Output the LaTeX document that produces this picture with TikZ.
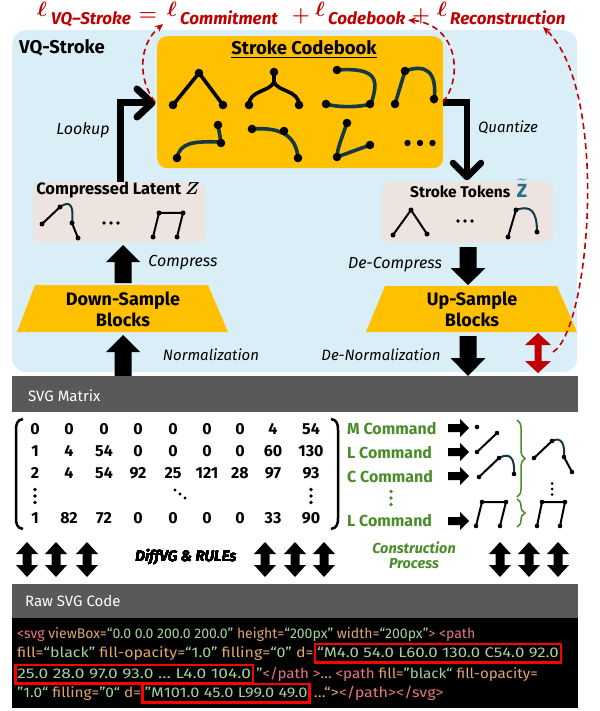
\documentclass[tikz,border=0pt]{standalone}
\usepackage{fontspec}
\usepackage{amsmath}
\usepackage{graphicx}
\setmainfont{Fira Sans}
\usetikzlibrary{arrows.meta,decorations.pathreplacing,calc}
\definecolor{vqblue}{HTML}{DAEEF8}
\definecolor{cbor}{HTML}{FFC000}
\definecolor{latbg}{HTML}{EEE4DF}
\definecolor{bargray}{HTML}{595959}
\definecolor{lossred}{HTML}{C00000}
\definecolor{stk}{HTML}{163845}
\definecolor{cmdgreen}{HTML}{4A8C2A}
\definecolor{zteal}{HTML}{1F6E8C}
\definecolor{ctag}{HTML}{E8767C}
\definecolor{cattr}{HTML}{E2A66C}
\definecolor{cstr}{HTML}{A3D39C}
\definecolor{boxred}{HTML}{FF0000}
\newcommand\fsz[1]{\fontsize{#1}{#1}\selectfont}
\newcommand\codetag[1]{\textcolor{ctag}{#1}}
\newcommand\codeattr[1]{\textcolor{cattr}{#1}}
\newcommand\codestr[1]{\textcolor{cstr}{#1}}
\newcommand\sx[2]{\scalebox{#1}[1]{#2}}
\newcommand\stdot[3][black]{\fill[#1] (#2) circle[radius=#3pt];}
% three dots: colour, x, y, spacing dx, spacing dy, radius
\newcommand\dotsat[6]{\fill[#1] (#2-#4,#3-#5) circle[radius=#6pt] (#2,#3) circle[radius=#6pt] (#2+#4,#3+#5) circle[radius=#6pt];}
% vertical block arrow: x, y tail, y tip, half shaft, half head, head length
\newcommand\vblk[6]{%
  \pgfmathsetmacro\hbase{#3+#6*sign(#2-#3)}%
  \fill (#1-#4,#2) -- (#1-#4,\hbase) -- (#1-#5,\hbase) -- (#1,#3) -- (#1+#5,\hbase) -- (#1+#4,\hbase) -- (#1+#4,#2) -- cycle;}
% vertical double block arrow: x, y top, y bottom, half shaft, half head, head length
\newcommand\dblk[6]{%
  \fill (#1,#2) -- (#1+#5,#2+#6) -- (#1+#4,#2+#6) -- (#1+#4,#3-#6) -- (#1+#5,#3-#6) -- (#1,#3) -- (#1-#5,#3-#6) -- (#1-#4,#3-#6) -- (#1-#4,#2+#6) -- (#1-#5,#2+#6) -- cycle;}
% right block arrow: y, x tail, x tip, half shaft, half head, head length
\newcommand\rblk[6]{%
  \fill (#2,#1-#4) -- (#3-#6,#1-#4) -- (#3-#6,#1-#5) -- (#3,#1) -- (#3-#6,#1+#5) -- (#3-#6,#1+#4) -- (#2,#1+#4) -- cycle;}
\begin{document}
\begin{tikzpicture}[x=1pt,y=-1pt,
  txt/.style={inner sep=0pt},
  panel/.style={inner sep=0pt, anchor=north west},
  mat/.style={inner sep=0pt, font=\fsz{16}\bfseries},
  cmd/.style={inner sep=0pt, anchor=west, font=\fsz{16}\bfseries, text=cmdgreen},
  code/.style={inner sep=0pt, anchor=base west, font=\fsz{14}, text height=10.5pt, text depth=3pt},
  redbox/.style={draw=boxred, line width=2.5pt, inner xsep=2pt, inner ysep=2.5pt},
  lossell/.style={inner sep=0pt, anchor=base west, text=lossred, font=\fsz{22}},
  losssub/.style={inner sep=0pt, anchor=base west, text=lossred, font=\fsz{17}\bfseries\itshape},
  lossop/.style={inner sep=0pt, anchor=base, text=lossred, font=\fsz{22}},
  cbl/.style={line width=3.6pt, line cap=round, line join=round},
  sml/.style={line width=2pt, line cap=round, line join=round},
  lossline/.style={draw=lossred, line width=1.6pt, dash pattern=on 6pt off 4pt, -{Stealth[length=8pt,width=7pt]}},
  brc/.style={draw=cmdgreen, line width=1.5pt, decorate, decoration={brace, amplitude=8pt}}]
\useasboundingbox (0,0) rectangle (599,711);

% ---------- panels ----------
\node[panel, fill=vqblue, rounded corners=14pt, minimum width=565pt, minimum height=342pt] (vq) at (12,30) {};
\node[panel, fill=cbor, rounded corners=10pt, minimum width=286pt, minimum height=132pt] (cb) at (157,36) {};
\node[panel, fill=latbg, rounded corners=7pt, minimum width=172pt, minimum height=60pt] (zbox) at (33,182) {};
\node[panel, fill=latbg, rounded corners=7pt, minimum width=171pt, minimum height=60pt] (tbox) at (382,182) {};

% ---------- loss formula ----------
\node[lossell] (l1) at (37,17) {$\boldsymbol{\ell}$};
\node[losssub] (s1) at (51,24.5) {VQ–Stroke};
\node[lossop] (eq) at (148,21) {$\boldsymbol{=}$};
\node[lossell] (l2) at (167,17) {$\boldsymbol{\ell}$};
\node[losssub] (s2) at (180,24.5) {Commitment};
\node[lossop] (p1) at (301,22) {$\boldsymbol{+}$};
\node[lossell] (l3) at (315,17) {$\boldsymbol{\ell}$};
\node[losssub] (s3) at (328,24.5) {Codebook};
\node[lossop] (p2) at (421,22) {$\boldsymbol{+}$};
\node[lossell] (l4) at (437,17) {$\boldsymbol{\ell}$};
\node[losssub] (s4) at (450,24.5) {Reconstruction};

% ---------- titles ----------
\node[txt, anchor=west, font=\fsz{18.5}\bfseries] (vqt) at (19,48) {VQ-Stroke};
\node[txt, font=\fsz{18.5}\bfseries] (cbt) at (304,49) {\underline{Stroke Codebook}};
\node[txt, font=\fsz{16.5}\bfseries] (zt) at (118,190) {Compressed Latent $\boldsymbol{Z}$};
\node[txt, anchor=base west, font=\fsz{15.5}\bfseries] (tt) at (410,197) {Stroke Tokens};
\node[txt, anchor=base west, text=zteal, font=\fsz{19}] (ttz) at ([xshift=6pt]tt.base east) {$\widetilde{\mathbf{Z}}$};

% ---------- codebook strokes ----------
\draw[cbl] (173,105) -- (199,73) -- (223,105);
\stdot{173,105}{4.3}\stdot{199,73}{4.3}\stdot{223,105}{4.3}
\draw[cbl] (249,105) .. controls (249,90) and (270,92) .. (274,82) -- (274,72);
\draw[cbl] (299,105) .. controls (299,90) and (278,92) .. (274,82);
\stdot{249,105}{4.3}\stdot{274,72}{4.3}\stdot{299,105}{4.3}
\draw[cbl, stk] (337,70) .. controls (380,67) and (378,82) .. (371,104);
\draw[cbl, stk] (326,104) .. controls (340,108) and (360,107) .. (371,104);
\stdot{337,70}{4.3}\stdot{326,104}{4.3}\stdot{370,104}{4.3}
\draw[cbl, stk] (395,104) -- (405,71) .. controls (425,64) and (438,70) .. (434,102);
\stdot{395,104}{4.3}\stdot{405,71}{4.3}\stdot{434,99}{4.3}
\draw[cbl, stk] (177,158) .. controls (180,143) and (192,141) .. (221,142) -- (218,125);
\stdot{177,158}{4.3}\stdot{221,143}{4.3}\stdot{218,125}{4.3}
\draw[cbl, stk] (252,129) .. controls (280,127) and (296,135) .. (298,158);
\stdot{252,129}{4.3}\stdot{284,131}{4.3}\stdot{298,158}{4.3}
\draw[cbl, stk] (347,123) .. controls (341,140) and (337,150) .. (337,157) -- (370,145);
\stdot{347,123}{4.3}\stdot{337,157}{4.3}\stdot{370,145}{4.3}
\dotsat{black}{420}{143}{12.5}{0}{3.2}

% ---------- latent strokes ----------
\draw[sml] (42,224) -- (60,207);
\draw[sml, stk] (60,207) .. controls (70,200) and (74,205) .. (72,223);
\draw[sml] (72,223) -- (78,238);
\stdot{42,224}{2.5}\stdot{60,207}{2.5}\stdot{72,223}{2.5}\stdot{78,238}{2.5}
\dotsat{black}{111}{223}{7}{0}{1.8}
\draw[sml] (153,237) -- (159,213) -- (183,213) -- (177,237);
\stdot{153,237}{2.5}\stdot{159,213}{2.5}\stdot{183,213}{2.5}\stdot{177,237}{2.5}

\draw[sml] (393,235) -- (411,210) -- (427,234);
\stdot{393,235}{2.5}\stdot{411,210}{2.5}\stdot{427,234}{2.5}
\dotsat{black}{465}{221}{7}{0}{1.8}
\draw[sml] (508,237) -- (516,210);
\draw[sml, stk] (516,210) .. controls (530,205) and (537,210) .. (537,232);
\stdot{508,237}{2.5}\stdot{516,210}{2.5}\stdot{537,232}{2.5}

% ---------- lookup / quantize ----------
\coordinate (lk0) at (120,182);
\coordinate (lk1) at (120,103);
\coordinate (lk2) at (150,103);
\draw[line width=7pt, line join=miter] (lk0) -- (lk1) -- (lk2);
\draw[line width=7pt, line cap=round, line join=round] (137,89) -- (152,103) -- (137,117);
\coordinate (qz0) at (443,102.5);
\coordinate (qz1) at (467,102.5);
\coordinate (qz2) at (467,174);
\draw[line width=6.5pt, line join=miter] (qz0) -- (qz1) -- (qz2);
\draw[line width=6.5pt, line cap=round, line join=round] (453,163) -- (467,177) -- (481,163);
\node[txt, font=\fsz{16}\itshape] (lookup) at (83,130) {Lookup};
\node[txt, font=\fsz{15}\itshape] (quant) at (508,127) {Quantize};

% ---------- encoder / decoder ----------
\fill[cbor] (35,285) -- (208,285) -- (228,332) -- (17,332) -- cycle;
\node[txt, align=center, font=\fontsize{18}{21}\selectfont\bfseries] (down) at (123,309) {Down-Sample\\Blocks};
\fill[cbor] (385,286) -- (557,286) -- (577,332) -- (366,332) -- cycle;
\node[txt, align=center, font=\fontsize{18}{21}\selectfont\bfseries] (up) at (472,309) {Up-Sample\\Blocks};

\vblk{123}{283}{245}{8.5}{17}{17}
\vblk{123}{377}{335}{8.5}{17}{17}
\vblk{468}{247}{285}{8.5}{17.5}{17}
\vblk{468}{336}{376}{8.5}{17.5}{18}
\node[txt, font=\fsz{16}\itshape] (compress) at (183,263) {Compress};
\node[txt, font=\fsz{15}\itshape] (norm) at (211,355) {Normalization};
\node[txt, font=\fsz{16}\itshape] (decomp) at (395,265) {De-Compress};
\node[txt, font=\fsz{15}\itshape] (denorm) at (381,355) {De-Normalization};
\begin{scope}[lossred]
\dblk{538}{333}{373}{3.5}{13}{12}
\end{scope}

% ---------- loss dashed curves ----------
\draw[lossline] (155,102) .. controls (138,80) and (138,45) .. (163,24);
\draw[lossline] (443,102) .. controls (462,80) and (460,25) .. (408,20);
\draw[lossline] (553,352) .. controls (590,330) and (610,90) .. (543,27);

% ---------- SVG matrix ----------
\node[panel, fill=bargray, minimum width=566pt, minimum height=36pt] (bar1) at (12,376) {};
\node[txt, anchor=west, font=\fsz{15}, text=white] (bar1t) at (28,396) {SVG Matrix};

\draw[line width=2.5pt] (23,419) .. controls (17,420) and (16,424) .. (16,430) -- (16,518) .. controls (16,524) and (17,528) .. (23,529);
\draw[line width=2.5pt] (331,419) .. controls (337,420) and (338,424) .. (338,430) -- (338,518) .. controls (338,524) and (337,528) .. (331,529);
\foreach \x/\v [count=\c] in {35/0,69/0,104/0,138/0,173/0,207/0,240/0,273/4,311/54}
  \node[mat] (ma\c) at (\x,429) {\v};
\foreach \x/\v [count=\c] in {35/1,69/4,104/54,138/0,173/0,207/0,240/0,273/60,311/130}
  \node[mat] (mb\c) at (\x,451) {\v};
\foreach \x/\v [count=\c] in {35/2,69/4,104/54,138/92,173/25,207/121,240/28,273/97,311/93}
  \node[mat] (mc\c) at (\x,473) {\v};
\dotsat{black}{35}{496}{0}{6.5}{1.8}
\dotsat{black}{180}{494}{5}{4}{1.6}
\dotsat{black}{311}{496}{0}{6.5}{1.8}
\foreach \x/\v [count=\c] in {35/1,69/82,104/72,138/0,173/0,207/0,240/0,273/33,311/90}
  \node[mat] (me\c) at (\x,518) {\v};

% ---------- commands ----------
\node[cmd] (cm1) at (347,429) {M Command};
\node[cmd] (cm2) at (347,453) {L Command};
\node[cmd] (cm3) at (347,477) {C Command};
\dotsat{cmdgreen}{391}{498}{0}{6.5}{1.8}
\node[cmd] (cm5) at (347,521) {L Command};
\rblk{428}{448}{469}{4}{9}{9}
\rblk{452}{448}{469}{4}{9}{9}
\rblk{476}{448}{469}{4}{9}{9}
\rblk{521}{448}{469}{4}{9}{9}

\stdot{477,427}{2.3}
\draw[sml] (477,452) -- (497,433);
\stdot{477,452}{2.3}\stdot{497,433}{2.3}
\draw[sml] (479,477) -- (499,458);
\draw[sml, stk] (499,458) .. controls (510,452) and (515,458) .. (514,474);
\stdot{479,477}{2.3}\stdot{499,458}{2.3}\stdot{514,474}{2.3}
\draw[sml] (476,526) -- (482,502) -- (506,502) -- (500,526);
\stdot{476,526}{2.3}\stdot{482,502}{2.3}\stdot{506,502}{2.3}\stdot{500,526}{2.3}

\draw[brc] (517,420) -- (517,497);
\draw[brc] (517,499) -- (517,527);

\draw[sml] (534,458) -- (552,441);
\draw[sml, stk] (552,441) .. controls (562,436) and (565,445) .. (564,457);
\draw[sml] (564,457) -- (572,472);
\stdot{534,458}{2.3}\stdot{552,441}{2.3}\stdot{564,457}{2.3}\stdot{572,472}{2.3}
\dotsat{black}{552}{489}{0}{5.5}{1.5}
\draw[sml] (537,526) -- (542,502) -- (565,502) -- (560,526);
\stdot{537,526}{2.3}\stdot{542,502}{2.3}\stdot{565,502}{2.3}\stdot{560,526}{2.3}

% ---------- double arrows ----------
\foreach \x in {27,56,87,265,295,324,500,529,558}
  \dblk{\x}{542}{577}{4.5}{11}{12}
\node[txt, font=\fsz{15}\bfseries\itshape] (diffvg) at (186,557) {Dif{}fVG \& RULEs};
\node[txt, align=center, text=cmdgreen, font=\fontsize{14.5}{14.5}\selectfont\bfseries\itshape] (constr) at (414,555) {Construction\\Process};

% ---------- raw SVG code ----------
\node[panel, fill=bargray, minimum width=566pt, minimum height=34pt] (bar2) at (12,584) {};
\node[txt, anchor=west, font=\fsz{15}, text=white] (bar2t) at (25,601) {Raw SVG Code};
\node[panel, fill=black, minimum width=566pt, minimum height=90pt] (codebg) at (12,618) {};

\node[code] (c1) at (17,638) {\codetag{<svg} \codeattr{viewBox=}\codestr{“0.0 0.0 200.0 200.0”} \codeattr{height=}\codestr{“200px”} \codeattr{width=}\codestr{“200px”}\codetag{>} \codetag{<path}};
\node[code] (c2a) at (17,657) {\sx{1.14}{\codeattr{fill=}\codestr{“black”} \codeattr{fill-opacity=}\codestr{“1.0”} \codeattr{filling=}\codestr{“0”} \codeattr{d=}}};
\node[code, redbox] (c2b) at (c2a.base east) {\sx{1.2}{\codestr{“M4.0 54.0 L60.0 130.0 C54.0 92.0}}};
\node[code, redbox] (c3a) at (14,678) {\sx{1.24}{\codestr{25.0 28.0 97.0 93.0 … L4.0 104.0}}};
\node[code] (c3b) at ([xshift=2pt]c3a.base east) {\sx{1.08}{\codestr{”}\codetag{</path >}\codeattr{…} \codetag{<path} \codeattr{fill=}\codestr{"black“} \codeattr{fill-opacity=}}};
\node[code] (c4a) at (17,697) {\sx{1.1}{\codestr{"1.0“} \codeattr{filling=}\codestr{"0“} \codeattr{d=}}};
\node[code, redbox] (c4b) at (c4a.base east) {\sx{1.17}{\codestr{"M101.0 45.0 L99.0 49.0}}};
\node[code] (c4c) at ([xshift=3pt]c4b.base east) {\sx{1.15}{\codeattr{…“>}\codetag{</path></svg>}}};
\end{tikzpicture}
\end{document}
